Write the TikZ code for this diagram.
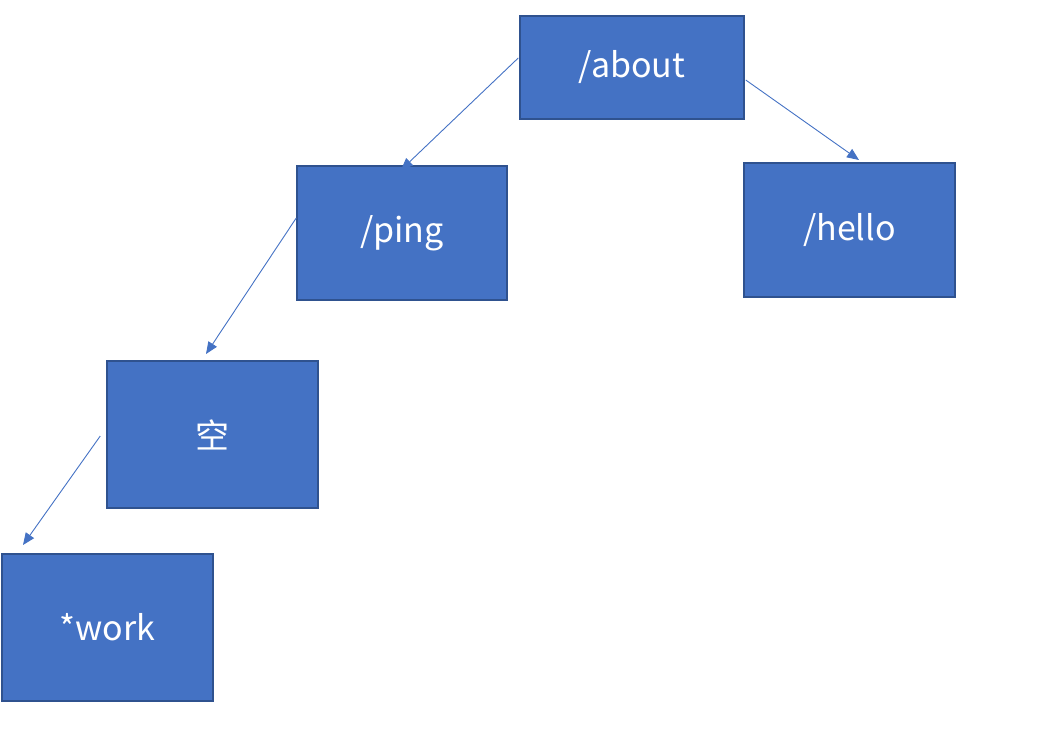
\documentclass[tikz,border=0pt]{standalone}
\usepackage{fontspec}
\setmainfont{Noto Sans CJK SC}
\usetikzlibrary{arrows.meta,calc}
\definecolor{boxfill}{HTML}{4472C4}
\definecolor{boxline}{HTML}{2F528F}
\definecolor{arrowc}{HTML}{4472C4}
\newcommand{\lowtxt}[1]{\raisebox{-3pt}{#1}}
\begin{document}
\begin{tikzpicture}[x=1pt,y=-1pt,
  rbox/.style={draw=boxline,line width=1.5pt,fill=boxfill,text=white,inner sep=0pt,
    font=\fontsize{34}{40}\selectfont},
  conn/.style={draw=arrowc,line width=0.9pt,-{Triangle[length=12pt,width=10pt]}}]
\useasboundingbox (0,0) rectangle (1040,742);
\node[rbox,minimum width=224pt,minimum height=103pt] (about) at (632,67.5) {\lowtxt{/about}};
\node[rbox,minimum width=210pt,minimum height=134pt] (ping) at (402,233) {\lowtxt{/ping}};
\node[rbox,minimum width=211pt,minimum height=134pt] (hello) at (849.5,230) {\lowtxt{/hello}};
\node[rbox,minimum width=211pt,minimum height=147pt] (kong) at (212.5,434.5) {\lowtxt{空}};
\node[rbox,minimum width=211pt,minimum height=147pt] (work) at (107.5,627.5) {\lowtxt{*work}};
\coordinate (e1) at (401,170);
\coordinate (e2) at (859,160);
\coordinate (e3) at (206,354);
\coordinate (e4) at (23,545);
\draw[conn] ($(about.west)+(-1,-9.5)$) -- (e1);
\draw[conn] ($(about.east)+(1,12.5)$) -- (e2);
\draw[conn] ($(ping.west)+(0,-15)$) -- (e3);
\draw[conn] ($(kong.west)+(-6,1.5)$) -- (e4);
\end{tikzpicture}
\end{document}
